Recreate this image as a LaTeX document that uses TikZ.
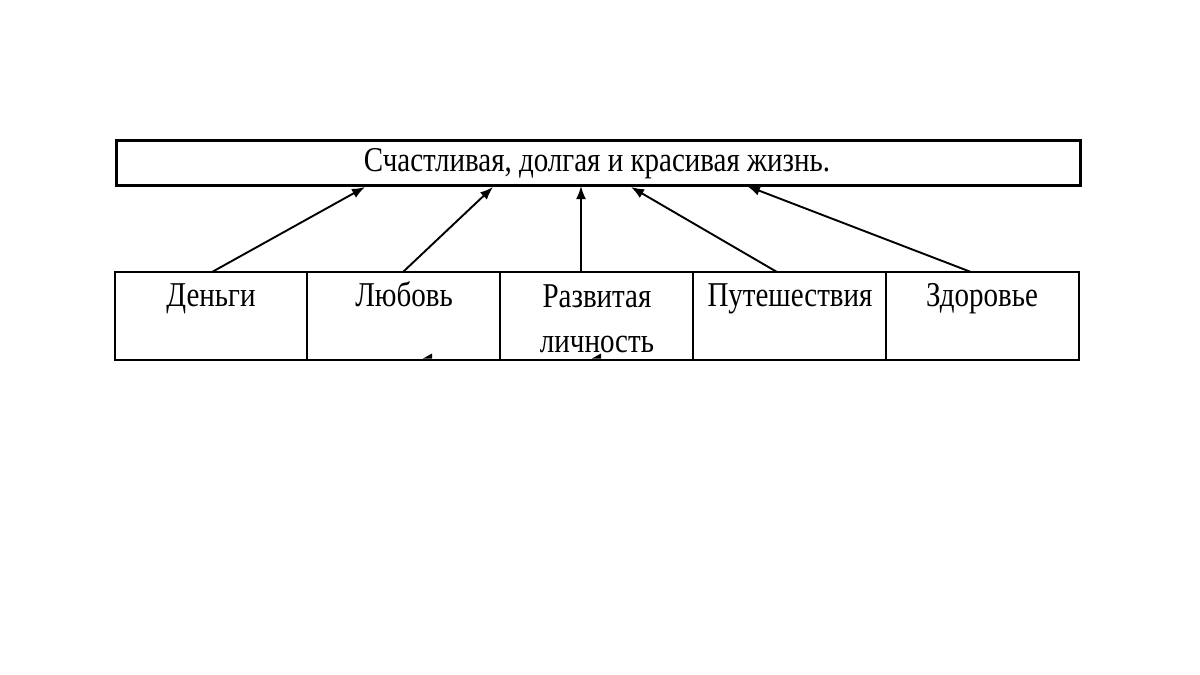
\documentclass[tikz,border=0pt]{standalone}
\usepackage{fontspec}
\usepackage{graphicx}
\setmainfont{Liberation Serif}
\usetikzlibrary{arrows.meta}
\newcommand{\stt}[1]{\scalebox{1}[1.2]{#1}}
\begin{document}
\begin{tikzpicture}[x=1pt,y=-1pt,
  cell/.style={draw=black,line width=2pt,minimum width=193pt,minimum height=88pt,anchor=north west,inner sep=0pt,outer sep=0pt},
  celltxt/.style={font=\fontsize{29}{45}\selectfont,anchor=base,align=center,inner sep=0pt},
  conn/.style={line width=1.9pt,-{Latex[length=13pt,width=10pt]}}]
\useasboundingbox (0,0) rectangle (1200,675);
\fill[white] (0,0) rectangle (1200,675);
% top box
\node[draw=black,line width=3pt,minimum width=964pt,minimum height=45pt,inner sep=0pt,anchor=north west] (top) at (115,139) {};
\node[font=\fontsize{29}{30}\selectfont,anchor=base,inner sep=0pt] (toptxt) at (597,171) {\stt{Счастливая, долгая и красивая жизнь.}};
% cells
\node[cell,minimum width=192pt] (c1) at (115,272) {};
\node[cell] (c2) at (307,272) {};
\node[cell] (c3) at (500,272) {};
\node[cell] (c4) at (693,272) {};
\node[cell] (c5) at (886,272) {};
\draw[line width=2.6pt] (c1.north west) -- (c5.north east);
\node[celltxt] (t1) at (211,306) {\stt{Деньги}};
\node[celltxt] (t2) at (404,306) {\stt{Любовь}};
\node[celltxt,anchor=north] (t3) at (597,285) {\stt{Развитая}\\\stt{личность}};
\node[celltxt] (t4) at (790,306) {\stt{Путешествия}};
\node[celltxt] (t5) at (982,306) {\stt{Здоровье}};
% arrow endpoints
\coordinate (s1) at (212,272); \coordinate (e1) at (365,187);
\coordinate (s2) at (403,272); \coordinate (e2) at (493,187);
\coordinate (s3) at (581,272); \coordinate (e3) at (581,186);
\coordinate (s4) at (777,272); \coordinate (e4) at (631,187);
\coordinate (s5) at (971,272); \coordinate (e5) at (747,186);
\draw[conn] (s1) -- (e1);
\draw[conn] (s2) -- (e2);
\draw[conn] (s3) -- (e3);
\draw[conn] (s4) -- (e4);
\draw[conn] (s5) -- (e5);
% cropped arrow tips at bottom edge
\fill (423,358.5) -- (432,353.5) -- (432,358.5) -- cycle;
\fill (592,358.5) -- (601,353.5) -- (601,358.5) -- cycle;
\end{tikzpicture}
\end{document}
